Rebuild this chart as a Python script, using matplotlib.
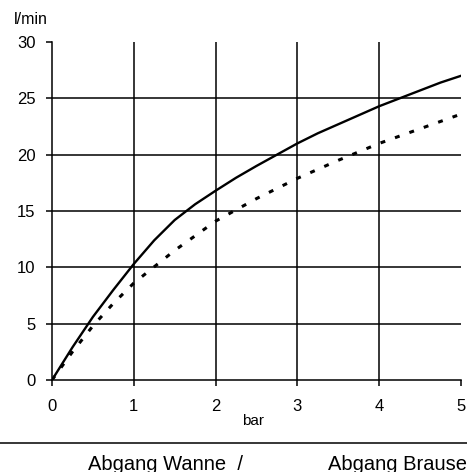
import matplotlib
matplotlib.use("Agg")
import matplotlib.pyplot as plt

# --- data ---
pressure_solid = [0, 0.25, 0.5, 0.75, 1, 1.25, 1.5, 1.75, 2, 2.25, 2.5, 2.75,
                  3, 3.25, 3.5, 3.75, 4, 4.25, 4.5, 4.75, 5]
flow_solid = [0, 2.9, 5.6, 8.0, 10.3, 12.4, 14.2, 15.6, 16.8, 17.95, 19.0, 20.0,
              21.0, 21.9, 22.7, 23.5, 24.3, 25.0, 25.7, 26.4, 27.0]

pressure_dotted = [0, 0.25, 0.5, 0.75, 1, 1.5, 2, 2.5, 3, 3.5, 4, 4.5, 5]
flow_dotted = [0, 2.5, 4.8, 6.8, 8.6, 11.5, 14.1, 16.1, 17.9, 19.5, 21.0, 22.3, 23.6]

x_ticks = [0, 1, 2, 3, 4, 5]
y_ticks = [0, 5, 10, 15, 20, 25, 30]

plt.rcParams['font.family'] = ['Liberation Sans', 'DejaVu Sans']

fig = plt.figure(figsize=(4.67, 4.72), dpi=100)
ax = fig.add_axes([52/467, 92/472, 409/467, 338/472])

# grid lines (inner only)
for xv in x_ticks[1:-1]:
    ax.axvline(xv, color='black', lw=1.1, zorder=1)
for yv in y_ticks[1:-1]:
    ax.axhline(yv, color='black', lw=1.1, zorder=1)

ax.plot(pressure_solid, flow_solid, color='black', lw=1.7, zorder=3)
ax.plot(pressure_dotted, flow_dotted, color='black', lw=2.2,
        linestyle=(0, (1.6, 3.4)), zorder=3)

ax.set_xlim(0, 5)
ax.set_ylim(0, 30)
ax.set_xticks(x_ticks)
ax.set_yticks(y_ticks)
ax.spines['top'].set_visible(False)
ax.spines['right'].set_visible(False)
ax.spines['left'].set_linewidth(1.1)
ax.spines['bottom'].set_linewidth(1.1)
ax.tick_params(axis='both', direction='out', length=4, width=1.1, labelsize=12)
ax.tick_params(axis='x', pad=10)
ax.tick_params(axis='y', pad=8)

fig.text(14/467, 1 - 20/472, 'l/min', fontsize=11.5, va='center', ha='left')
fig.text(253/467, 1 - 421/472, 'bar', fontsize=11, va='center', ha='center')

# separator line and caption below
fig.add_artist(plt.Line2D([0, 1], [1 - 443/472, 1 - 443/472],
                          color='black', lw=1.1, transform=fig.transFigure))
fig.text(166/467, 1 - 465/472, 'Abgang Wanne  /', fontsize=14.5, va='center', ha='center')
fig.text(328/467, 1 - 465/472, 'Abgang Brause', fontsize=14.5, va='center', ha='left')

fig.savefig('out.png', dpi=100)
